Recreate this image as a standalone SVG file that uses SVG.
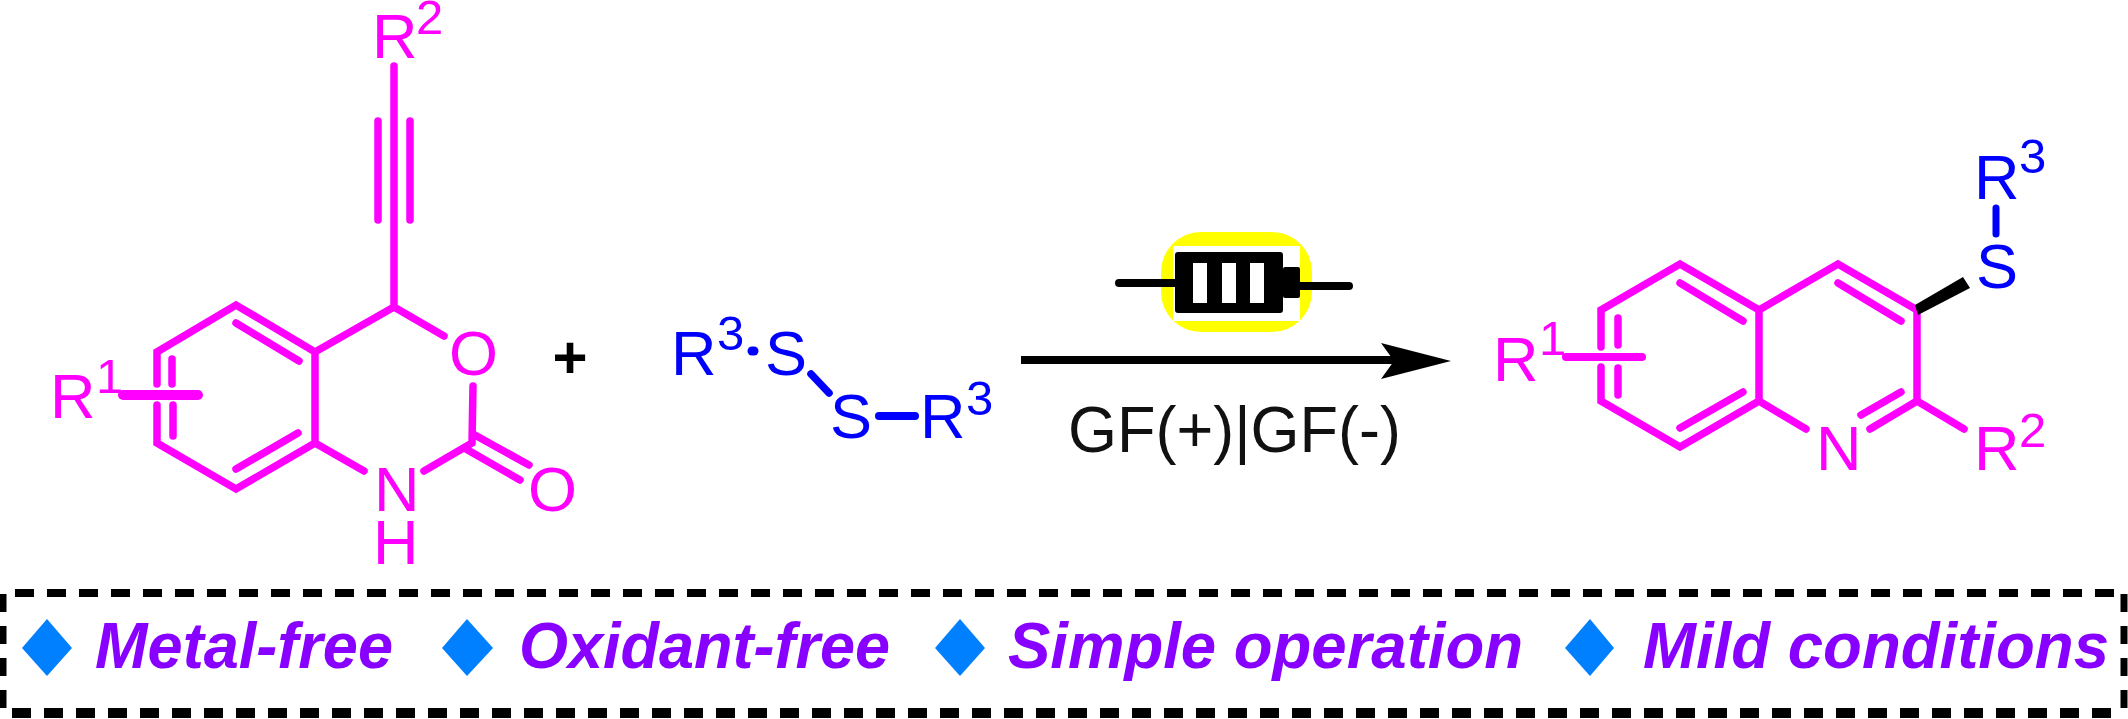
<svg xmlns="http://www.w3.org/2000/svg" width="2128" height="719" viewBox="0 0 2128 719">
<style>
text{font-family:"Liberation Sans",Arial,sans-serif}
.m{fill:#f0f}.b{fill:#00f}
.t{font-size:63px}.s{font-size:49px}
.ml{stroke:#f0f;stroke-width:7.5;fill:none;stroke-linecap:round;stroke-linejoin:miter}
.bl{stroke:#00f;stroke-width:7.5;fill:none;stroke-linecap:round}
.adv{font-size:64px;font-weight:bold;font-style:italic;fill:#80f}
.dia{fill:#0080ff}
.dash{stroke:#000;fill:none}
</style>
<rect width="2128" height="719" fill="#fff"/>
<g id="reactant-oxazinone">
<path class="ml" d="M394 66V307M378 121V220M410 121V220M394 307L315 352L236 305L157 352V384M157 405V443L236 489L315 443V352M236 323L299 361M172 359V384M173 405V436M236 469L298 433M394 307L444 336M473 386L472 443M473 434L529 465M466 449L520 480M315 443L364 471M424 471L472 443"/>
<path class="ml" style="stroke-width:10" d="M123 395H198"/>
<text class="m t" x="50" y="418">R</text><text class="m s" x="96" y="393">1</text>
<text class="m t" x="372" y="58">R</text><text class="m s" x="416" y="34">2</text>
<text class="m t" x="449" y="375">O</text>
<text class="m t" x="528" y="511">O</text>
<text class="m t" x="374" y="511">N</text>
<text class="m t" x="373" y="564">H</text>
</g>
<text id="plus" x="570" y="378" text-anchor="middle" style="font-size:60px;font-weight:bold">+</text>
<g id="reactant-disulfide">
<path class="bl" style="stroke-width:9" d="M752 351H754"/>
<path class="bl" d="M811 374L829 393"/>
<path class="bl" style="stroke-width:8" d="M879 416H915"/>
<text class="b t" x="671" y="375">R</text><text class="b s" x="717" y="350">3</text>
<text class="b t" x="765" y="375">S</text>
<text class="b t" x="830" y="438">S</text>
<text class="b t" x="920" y="438">R</text><text class="b s" x="966" y="415">3</text>
</g>
<g id="battery">
<rect x="1161" y="232" width="151" height="100" rx="40" fill="#ff0"/>
<rect x="1173" y="246" width="127" height="75" fill="#fff"/>
<path d="M1119 283H1175M1300 286H1349" stroke="#000" stroke-width="8" stroke-linecap="round"/>
<rect x="1175" y="252" width="108" height="61" rx="3"/>
<rect x="1283" y="267" width="17" height="31" rx="2"/>
<path fill="#fff" d="M1193 263h14v40h-14zM1222 263h14v40h-14zM1250 263h14v40h-14z"/>
</g>
<g id="arrow">
<path d="M1021 360H1395" stroke="#000" stroke-width="8"/>
<path d="M1451 361L1381 343L1394 361L1381 379Z"/>
</g>
<text id="electrodes" x="1068" y="452" textLength="333" lengthAdjust="spacingAndGlyphs" style="font-size:65px" fill="#111">GF(+)|GF(-)</text>
<g id="product-quinoline">
<path class="ml" d="M1601 347V310L1680 264L1759 310V401L1680 447L1601 401V367M1759 310L1838 264L1917 310V401L1870 429M1680 283L1743 321M1838 283L1901 321M1680 428L1743 392M1861 415L1901 392M1759 401L1806 429M1917 401L1964 429M1618 318V345M1618 368V395"/>
<path class="ml" d="M1566 357H1642" style="stroke-width:8"/>
<path d="M1915 305L1963 277L1970 288L1918 315Z"/>
<path class="bl" style="stroke-width:7" d="M1996 208V234"/>
<text class="m t" x="1493" y="381">R</text><text class="m s" x="1539" y="355">1</text>
<text class="m t" x="1816" y="470">N</text>
<text class="m t" x="1974" y="470">R</text><text class="m s" x="2019" y="447">2</text>
<text class="b t" x="1976" y="288">S</text>
<text class="b t" x="1974" y="199">R</text><text class="b s" x="2019" y="173">3</text>
</g>
<g id="frame" class="dash">
<path stroke-width="8" stroke-dasharray="19 13" d="M15 593H2116"/>
<path stroke-width="10" stroke-dasharray="19 13" d="M12 713H2124"/>
<path stroke-width="7" stroke-dasharray="18 14" d="M3 594V708"/>
<path stroke-width="7" stroke-dasharray="18 14" d="M2124 594V708"/>
</g>
<g id="advantages">
<path class="dia" d="M47 619L72 648L47 676L22 648Z"/>
<text class="adv" x="95" y="668" textLength="298" lengthAdjust="spacingAndGlyphs">Metal-free</text>
<path class="dia" d="M467 619L493 648L467 676L442 648Z"/>
<text class="adv" x="519" y="668" textLength="371" lengthAdjust="spacingAndGlyphs">Oxidant-free</text>
<path class="dia" d="M960 619L985 648L960 676L935 648Z"/>
<text class="adv" x="1008" y="668" textLength="515" lengthAdjust="spacingAndGlyphs">Simple operation</text>
<path class="dia" d="M1590 619L1614 648L1590 676L1565 648Z"/>
<text class="adv" x="1643" y="668" textLength="466" lengthAdjust="spacingAndGlyphs">Mild conditions</text>
</g>
</svg>
